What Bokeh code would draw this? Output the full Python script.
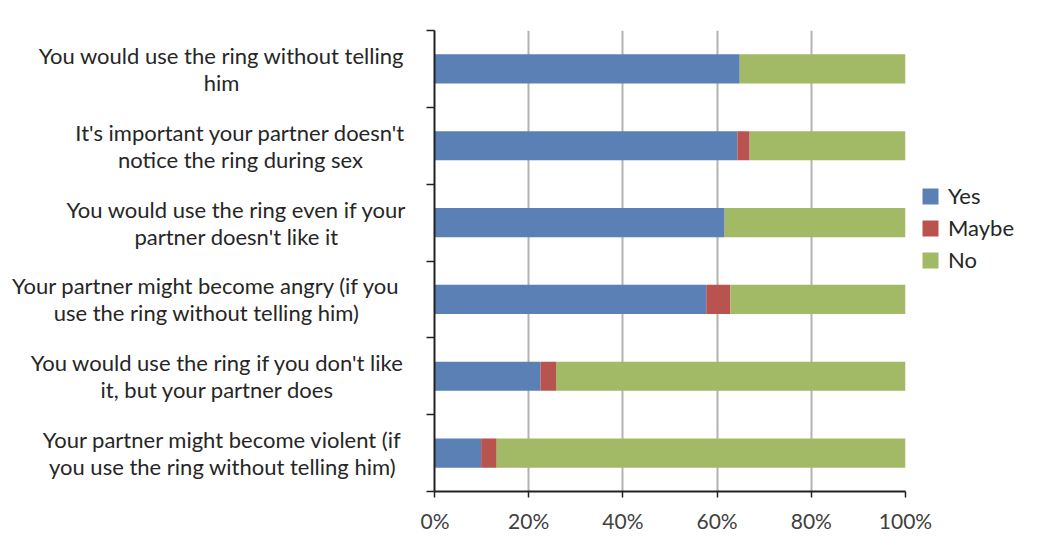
from bokeh.plotting import figure
from bokeh.models import ColumnDataSource, Range1d, FixedTicker, Legend, LegendItem, NumeralTickFormatter
from bokeh.layouts import row
from bokeh.core.properties import value
from bokeh.embed import file_html
from bokeh.resources import INLINE

# ---- data ----
categories = [
    "You would use the ring without telling\nhim",
    "It's important your partner doesn't\nnotice the ring during sex",
    "You would use the ring even if your\npartner doesn't like it",
    "Your partner might become angry (if you\nuse the ring without telling him)",
    "You would use the ring if you don't like\nit, but your partner does",
    "Your partner might become violent (if\nyou use the ring without telling him)",
]
yes = [0.648, 0.643, 0.616, 0.577, 0.225, 0.099]
maybe = [0.0, 0.026, 0.0, 0.051, 0.033, 0.033]
no = [0.352, 0.331, 0.384, 0.372, 0.742, 0.868]
series = ["Yes", "Maybe", "No"]
x_ticks = [0, 0.2, 0.4, 0.6, 0.8, 1.0]

# ---- styling ----
colors = ["#5A80B5", "#B9534F", "#A2B966"]
label_centers = [221, 240, 236, 206, 217, 222]  # horizontal centre of each label block (px)
FONT = "Lato"
TEXT = "#262626"

n = len(categories)
ypos = [n - i - 0.5 for i in range(n)]

src = ColumnDataSource(dict(y=ypos, Yes=yes, Maybe=maybe, No=no))
lsrc = ColumnDataSource(dict(x=label_centers, y=ypos, text=categories))

yr = Range1d(0, n)

# Left figure: category labels
pl = figure(width=420, height=560, x_range=Range1d(0, 420), y_range=yr,
            x_axis_location=None, y_axis_location=None,
            output_backend="svg", toolbar_location=None,
            min_border_left=0, min_border_right=0, min_border_top=30, min_border_bottom=69)
pl.outline_line_color = None
pl.grid.visible = False
pl.text(x="x", y="y", text="text", source=lsrc, text_align="center", text_baseline="middle",
        text_font=value(FONT), text_font_size="22px", text_color=TEXT, text_line_height=1.0)

# Right figure: bars
p = figure(frame_width=471, frame_height=461, x_range=Range1d(0, 1), y_range=yr,
           output_backend="svg", toolbar_location=None,
           min_border_left=14, min_border_right=0, min_border_top=30, min_border_bottom=69)
p.outline_line_color = None
rs = p.hbar_stack(series, y="y", height=0.38, source=src, color=colors, line_color=None)

p.ygrid.visible = False
p.xgrid.ticker = FixedTicker(ticks=x_ticks)
p.xgrid.grid_line_color = "#B3B3B3"
p.xgrid.grid_line_width = 2

p.xaxis.ticker = FixedTicker(ticks=x_ticks)
p.xaxis.formatter = NumeralTickFormatter(format="0%")
p.xaxis.major_label_text_font = FONT
p.xaxis.major_label_text_font_size = "21px"
p.xaxis.major_label_text_color = "#404040"
p.xaxis.major_label_standoff = 10
p.xaxis.major_tick_out = 6
p.xaxis.major_tick_in = 0
p.xaxis.minor_tick_line_color = None
p.xaxis.axis_line_width = 2
p.xaxis.axis_line_color = "#222222"
p.xaxis.major_tick_line_color = "#222222"
p.xaxis.major_tick_line_width = 1.5

y_ticks = list(range(n + 1))
p.yaxis.ticker = FixedTicker(ticks=y_ticks)
p.yaxis.major_label_overrides = {t: "" for t in y_ticks}
p.yaxis.major_label_standoff = 0
p.yaxis.major_tick_out = 8
p.yaxis.major_tick_in = 0
p.yaxis.minor_tick_line_color = None
p.yaxis.axis_line_width = 2
p.yaxis.axis_line_color = "#222222"
p.yaxis.major_tick_line_color = "#222222"
p.yaxis.major_tick_line_width = 1.5

legend = Legend(items=[LegendItem(label=s, renderers=[r]) for s, r in zip(series, rs)],
                location=(15, 218), label_text_font=FONT, label_text_font_size="22px",
                label_text_color=TEXT, glyph_width=20, glyph_height=20, label_standoff=8,
                spacing=5, padding=10, margin=10, border_line_color=None,
                background_fill_alpha=0)
p.add_layout(legend, "right")

layout = row(pl, p)
open("out.html", "w").write(file_html(layout, INLINE))
